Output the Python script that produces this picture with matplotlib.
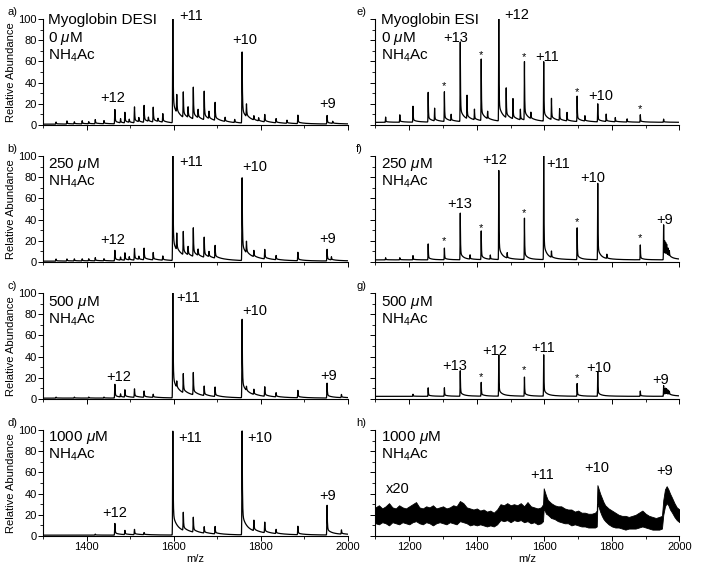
import numpy as np
import matplotlib
matplotlib.use("Agg")
import matplotlib.pyplot as plt
from matplotlib.ticker import MultipleLocator

plt.rcParams['font.family'] = ['Liberation Sans', 'DejaVu Sans']
plt.rcParams['mathtext.fontset'] = 'custom'
plt.rcParams['mathtext.rm'] = 'Liberation Sans'
plt.rcParams['mathtext.it'] = 'Liberation Sans:italic'

################################## Data ########################################
# DESI spectra (left column), peak m/z and relative abundance
a_mz = [1330, 1355, 1372, 1390, 1405, 1420, 1440, 1465, 1478, 1488, 1498, 1510, 1520, 1532, 1542, 1553, 1564,
        1575, 1598, 1607, 1622, 1633, 1645, 1656, 1670, 1681, 1695, 1718, 1740, 1757, 1767, 1784, 1795, 1809,
        1835, 1860, 1885, 1952, 1965]
a_ab = [2, 3, 2, 3, 2, 4, 3, 13.5, 4, 10, 3, 15, 4, 16, 4, 14, 3,
        8, 100, 17, 24, 10, 30, 8, 27, 7, 17, 4, 3, 67, 12, 4, 3, 7,
        4, 3, 8, 8, 2]

b_mz = [1330, 1355, 1372, 1390, 1405, 1420, 1440, 1465, 1478, 1488, 1498, 1510, 1520, 1532, 1553, 1575, 1598,
        1607, 1622, 1633, 1645, 1656, 1670, 1681, 1695, 1757, 1767, 1784, 1809, 1835, 1885, 1952, 1962]
b_ab = [2, 2, 2, 2, 2, 3, 2, 10, 3, 7, 3, 11, 3, 11, 7, 4, 100,
        16, 22, 8, 27, 6, 19, 5, 12, 78, 11, 6, 9, 4, 8, 11, 3]

c_mz = [1330, 1372, 1405, 1440, 1465, 1478, 1488, 1510, 1532, 1553, 1598, 1607, 1622, 1645, 1670, 1695, 1757,
        1767, 1784, 1809, 1835, 1885, 1952, 1985]
c_ab = [1, 1, 1, 1, 13, 3, 7, 8, 6, 3, 100, 6, 18, 21, 9, 9, 74,
        4, 5, 9, 4, 7, 14, 3]

d_mz = [1420, 1465, 1488, 1510, 1532, 1598, 1622, 1645, 1670, 1695, 1757, 1784, 1809, 1835, 1885, 1952, 1985]
d_ab = [1, 11, 4, 5, 2, 98, 17, 14, 6, 7, 98, 10, 10, 4, 8, 28, 4]

# ESI spectra (right column)
e_mz = [1130, 1172, 1211, 1256, 1275, 1304, 1324, 1351, 1371, 1393, 1413, 1432, 1465, 1487, 1507, 1529, 1541,
        1560, 1598, 1621, 1645, 1667, 1697, 1720, 1758, 1783, 1810, 1845, 1884, 1953]
e_ab = [5, 7, 15, 28, 12, 28, 6, 75, 22, 10, 58, 7, 100, 28, 19, 10, 55,
        6, 56, 20, 11, 8, 24, 5, 17, 7, 4, 3, 7, 3]

f_mz = [1130, 1172, 1211, 1256, 1304, 1351, 1380, 1413, 1440, 1465, 1490, 1541, 1598, 1621, 1697, 1758, 1785,
        1884, 1953, 1956, 1959, 1962, 1966, 1970]
f_ab = [2, 2, 4, 15, 11, 44, 4, 27, 4, 84, 5, 39, 100, 6, 30, 72, 4,
        14, 33, 14, 12, 10, 7, 5]

g_mz = [1211, 1256, 1304, 1351, 1413, 1465, 1541, 1598, 1697, 1758, 1884, 1953, 1956, 1959, 1962, 1966, 1970]
g_ab = [2, 8, 8, 24, 13, 39, 18, 39, 12, 23, 5, 10, 6, 6, 5, 4, 3]

# ESI 1000 uM (x20), noisy trace given as lower / upper envelope
h_mz = list(range(1100, 1600, 10)) + [
    1596, 1598, 1601, 1605, 1610, 1620, 1630, 1640, 1650, 1660, 1670, 1680, 1690, 1700, 1710, 1720, 1730,
    1740, 1750, 1755,
    1757, 1760, 1765, 1770, 1775, 1780, 1790, 1800, 1810, 1820, 1830, 1840, 1850, 1860, 1870, 1880, 1890,
    1900, 1910, 1920, 1930, 1940, 1948,
    1952, 1957, 1962, 1967, 1972, 1978, 1985, 1992, 2000]
h_lo = [12, 11, 13, 12, 10, 13, 12, 11, 13, 12,
        11, 13, 14, 12, 11, 13, 12, 10, 12, 13,
        12, 11, 13, 12, 11, 14, 13, 12, 10, 11,
        10, 11, 10, 9, 10, 9, 11, 15, 14, 15,
        13, 15, 14, 15, 13, 14, 12, 13, 11, 12,
        14, 26, 24, 21, 20, 17, 16, 14, 13, 12, 12, 10, 11, 10, 9, 9, 8, 8, 8, 9,
        30, 28, 23, 19, 16, 14, 11, 9, 8, 8, 7, 6, 7, 7, 7, 8, 9, 8, 7, 6, 6, 6, 7,
        20, 28, 31, 29, 25, 22, 18, 15, 13]
h_hi = [27, 29, 26, 28, 31, 27, 26, 29, 27, 26,
        28, 30, 32, 27, 26, 28, 27, 29, 26, 27,
        28, 26, 27, 29, 28, 33, 31, 27, 26, 25,
        26, 24, 25, 23, 24, 22, 25, 30, 29, 31,
        29, 30, 29, 31, 28, 32, 28, 27, 26, 27,
        30, 45, 42, 38, 34, 31, 29, 28, 28, 26, 25, 25, 23, 24, 22, 22, 21, 21, 22, 24,
        48, 45, 40, 36, 32, 29, 26, 24, 22, 20, 19, 19, 18, 19, 20, 22, 24, 21, 19, 18, 17, 18, 19,
        34, 44, 47, 44, 40, 36, 31, 27, 25]

# charge-state labels (m/z, height) per panel
a_lab = [('+12', 1461, 25), ('+11', 1640, 103), ('+10', 1763, 80), ('+9', 1954, 20)]
b_lab = [('+12', 1461, 21), ('+11', 1640, 94), ('+10', 1787, 90), ('+9', 1954, 22)]
c_lab = [('+12', 1473, 21), ('+11', 1633, 95), ('+10', 1787, 83), ('+9', 1956, 22)]
d_lab = [('+12', 1465, 22), ('+11', 1637, 92), ('+10', 1798, 92), ('+9', 1954, 38)]
e_lab = [('+13', 1338, 82), ('+12', 1518, 104), ('+11', 1608, 64), ('+10', 1766, 27)]
f_lab = [('+13', 1350, 55), ('+12', 1453, 96), ('+11', 1641, 92), ('+10', 1744, 79), ('+9', 1957, 40)]
g_lab = [('+13', 1333, 31), ('+12', 1453, 45), ('+11', 1597, 48), ('+10', 1762, 29), ('+9', 1945, 18)]
h_lab = [('+11', 1592, 58), ('+10', 1754, 64), ('+9', 1956, 61)]

# apo-myoglobin peaks marked with *
e_star = [(1304, 37), (1413, 66), (1541, 64), (1697, 31), (1884, 15)]
f_star = [(1302, 20), (1413, 32), (1540, 46), (1697, 38), (1884, 23)]
g_star = [(1413, 21), (1540, 27), (1697, 20)]

################################## Functions ###################################
def trace(x, mz, ab, base, t1, t2):
    # sharp rise, fast drop, then a slow adduct tail on the high-m/z side
    y = np.full_like(x, base)
    for m, a in zip(mz, ab):
        d = x - m
        up = a * np.exp(-(d / 0.7) ** 2)
        down = a * ((1 - t1 - t2) * np.exp(-d / 0.7) + t1 * np.exp(-d / 8.0) + t2 * np.exp(-d / 35.0))
        y += np.where(d < 0, up, down)
    return y


def style(ax, xmin, xmax, left):
    ax.set_xlim(xmin, xmax)
    ax.set_ylim(0, 100)
    ax.spines['top'].set_visible(False)
    ax.spines['right'].set_visible(False)
    ax.spines['left'].set_linewidth(0.8)
    ax.spines['bottom'].set_linewidth(0.8)
    ax.xaxis.set_major_locator(MultipleLocator(200))
    ax.xaxis.set_minor_locator(MultipleLocator(100))
    ax.yaxis.set_major_locator(MultipleLocator(20))
    ax.yaxis.set_minor_locator(MultipleLocator(10))
    ax.tick_params(which='major', length=3.5, width=0.7, labelsize=8, pad=1)
    ax.tick_params(which='minor', length=2, width=0.6)
    if left:
        ax.set_ylabel('Relative Abundance', fontsize=8)
        ax.yaxis.set_label_coords(-0.088, 0.5)
    else:
        ax.tick_params(axis='y', labelleft=False)


def header(ax, x0, y0, lines):
    for k, line in enumerate(lines):
        ax.text(x0, y0 - k * 0.17, line, transform=ax.transAxes, fontsize=11, va='baseline', ha='left')


def letter_y(i):
    return 1 - (571 * (1 - bottoms[i]) - 113) / 571


################################## Figure ######################################
fig = plt.figure(figsize=(7.04, 5.71), dpi=100)

lefts = [43 / 704, 375.5 / 704]
widths = [305 / 704, 304 / 704]
bottoms = [1 - 125 / 571, 1 - 262 / 571, 1 - 399 / 571, 1 - 536 / 571]
H = 106 / 571

left_data = [(a_mz, a_ab, a_lab, 'a)', ['Myoglobin DESI', '0 $\\mu$M', 'NH$_4$Ac'], 0.956),
             (b_mz, b_ab, b_lab, 'b)', ['250 $\\mu$M', 'NH$_4$Ac'], 0.887),
             (c_mz, c_ab, c_lab, 'c)', ['500 $\\mu$M', 'NH$_4$Ac'], 0.877),
             (d_mz, d_ab, d_lab, 'd)', ['1000 $\\mu$M', 'NH$_4$Ac'], 0.896)]

xl = np.arange(1300, 2000, 0.2)
for i, (mz, ab, lab, letter, txt, ty) in enumerate(left_data):
    ax = fig.add_axes([lefts[0], bottoms[i], widths[0], H])
    ax.plot(xl, trace(xl, mz, ab, 0.8, 0.12, 0.08), color='black', lw=0.9)
    style(ax, 1300, 2000, True)
    for s, xx, yy in lab:
        ax.text(xx, yy, s, fontsize=10.5, ha='center', va='center')
    header(ax, 0.016, ty, txt)
    fig.text(7 / 704, letter_y(i), letter, fontsize=8, ha='left', va='center')
    if i == 3:
        ax.set_xlabel('m/z', fontsize=8, labelpad=1)
    else:
        ax.tick_params(axis='x', labelbottom=False)

right_data = [(e_mz, e_ab, 2.5, 0.10, 0.06, e_lab, e_star, 'e)', ['Myoglobin ESI', '0 $\\mu$M', 'NH$_4$Ac'], 0.956),
              (f_mz, f_ab, 2.0, 0.12, 0.03, f_lab, f_star, 'f)', ['250 $\\mu$M', 'NH$_4$Ac'], 0.887),
              (g_mz, g_ab, 2.5, 0.12, 0.04, g_lab, g_star, 'g)', ['500 $\\mu$M', 'NH$_4$Ac'], 0.877)]

xr = np.arange(1100, 2000, 0.2)
for i, (mz, ab, base, t1, t2, lab, star, letter, txt, ty) in enumerate(right_data):
    ax = fig.add_axes([lefts[1], bottoms[i], widths[1], H])
    ax.plot(xr, trace(xr, mz, ab, base, t1, t2), color='black', lw=0.9)
    style(ax, 1100, 2000, False)
    ax.tick_params(axis='x', labelbottom=False)
    for s, xx, yy in lab:
        ax.text(xx, yy, s, fontsize=10.5, ha='center', va='center')
    for xx, yy in star:
        ax.text(xx, yy, '*', fontsize=8, ha='center', va='center')
    header(ax, 0.017, ty, txt)
    fig.text(356 / 704, letter_y(i), letter, fontsize=8, ha='left', va='center')

# panel h: x20 trace
ax = fig.add_axes([lefts[1], bottoms[3], widths[1], H])
ax.fill_between(h_mz, h_lo, h_hi, color='black', lw=0.6)
style(ax, 1100, 2000, False)
for s, xx, yy in h_lab:
    ax.text(xx, yy, s, fontsize=10.5, ha='center', va='center')
ax.text(1166, 44, 'x20', fontsize=10.5, ha='center', va='center')
header(ax, 0.017, 0.896, ['1000 $\\mu$M', 'NH$_4$Ac'])
ax.set_xlabel('m/z', fontsize=8, labelpad=1)
fig.text(356 / 704, letter_y(3), 'h)', fontsize=8, ha='left', va='center')

fig.savefig('out.png', dpi=100)
